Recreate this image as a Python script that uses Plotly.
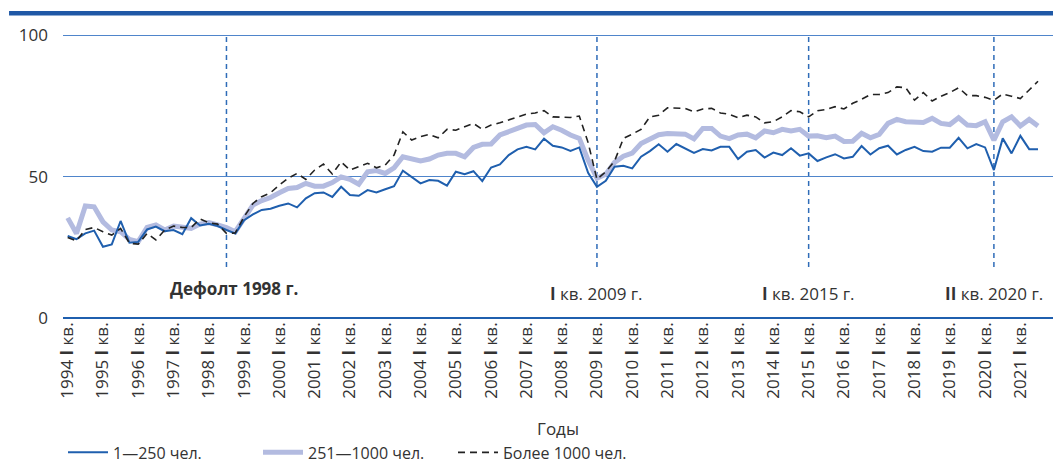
import plotly.graph_objects as go

years = list(range(1994, 2022))
tick_labels = [f"{y} <b>I</b> кв." for y in years]

# quarterly values, 1994 Q1 ... 2021 Q3
small = [29.0, 27.9, 29.9, 30.9, 25.2, 26.0, 34.3, 26.6, 26.9, 31.3, 32.3, 30.7,
         31.1, 29.6, 35.3, 32.7, 33.3, 32.5, 31.1, 29.9, 34.6, 36.6, 38.2, 38.6,
         39.7, 40.5, 39.1, 42.3, 44.1, 44.4, 42.8, 46.4, 43.5, 43.2, 45.2, 44.4,
         45.5, 46.6, 52.1, 49.9, 47.6, 48.8, 48.5, 46.8, 51.7, 50.8, 51.9, 48.4,
         53.2, 54.3, 57.6, 59.6, 60.5, 59.6, 63.4, 60.9, 60.3, 59.1, 60.3, 51.3,
         46.4, 48.5, 53.5, 53.8, 52.9, 57.0, 59.0, 61.4, 58.8, 61.5, 60.0, 58.4,
         59.7, 59.2, 60.5, 60.5, 56.2, 58.8, 59.4, 56.7, 58.5, 57.6, 60.0, 57.4,
         58.2, 55.5, 56.8, 57.9, 56.4, 57.0, 60.8, 57.8, 60.0, 60.9, 57.8, 59.4,
         60.5, 59.0, 58.8, 60.2, 60.2, 63.7, 60.0, 61.5, 60.3, 52.3, 63.5, 58.2,
         64.4, 59.7, 59.7]

medium = [35.4, 29.9, 39.6, 39.3, 34.0, 31.1, 30.5, 27.8, 27.0, 32.0, 32.9, 31.1,
          32.5, 32.0, 31.7, 33.2, 33.7, 32.9, 32.0, 30.5, 35.2, 39.9, 41.5, 42.6,
          44.3, 45.8, 46.1, 47.6, 46.6, 46.6, 47.9, 49.9, 49.0, 47.3, 51.7, 52.1,
          51.1, 53.1, 57.0, 56.2, 55.5, 56.2, 57.6, 58.2, 58.2, 57.0, 60.3, 61.4,
          61.5, 64.7, 65.8, 66.7, 68.2, 68.4, 65.5, 67.6, 66.4, 64.7, 63.5, 55.8,
          49.4, 50.8, 55.0, 57.2, 58.3, 61.7, 63.5, 64.8, 65.2, 65.3, 65.0, 63.3,
          67.0, 67.0, 64.3, 63.4, 64.7, 65.0, 63.7, 66.1, 65.5, 66.7, 66.1, 66.7,
          64.3, 64.4, 63.7, 64.3, 62.4, 62.5, 65.3, 63.7, 64.9, 68.8, 70.2, 69.4,
          69.4, 69.1, 70.6, 68.8, 68.4, 70.8, 68.2, 68.0, 69.4, 62.9, 69.4, 71.1,
          67.9, 70.2, 67.9]

large = [28.5, 27.3, 31.3, 32.0, 30.5, 29.3, 31.7, 26.4, 26.1, 29.9, 27.6, 31.1,
         32.5, 32.0, 32.0, 35.0, 33.7, 33.2, 29.9, 30.1, 35.8, 40.5, 42.9, 44.3,
         47.0, 49.4, 51.1, 49.0, 52.3, 54.4, 50.9, 55.2, 52.3, 53.5, 54.7, 53.1,
         54.1, 57.6, 65.8, 62.9, 64.1, 64.9, 63.7, 66.7, 66.4, 67.6, 68.8, 66.7,
         68.2, 69.0, 70.0, 71.1, 72.1, 72.5, 73.3, 71.1, 71.1, 70.9, 71.4, 62.0,
         49.0, 51.7, 55.5, 63.5, 65.0, 66.7, 71.1, 71.7, 74.3, 74.1, 74.1, 72.9,
         73.9, 74.1, 72.5, 72.0, 70.8, 71.7, 71.1, 69.0, 69.4, 71.1, 73.3, 72.9,
         71.1, 73.3, 73.7, 74.7, 73.9, 75.9, 77.3, 79.0, 79.0, 79.7, 81.7, 81.4,
         77.0, 79.7, 76.7, 78.4, 79.7, 81.4, 78.6, 78.6, 78.0, 77.0, 79.2, 78.4,
         77.6, 80.6, 83.7]

series_names = ["1—250 чел.", "251—1000 чел.", "Более 1000 чел."]

# event markers: (quarter index, label)
events_idx = [18, 60, 84, 105]
events_text = ["<b>Дефолт 1998 г.</b>", "<b>I</b> кв. 2009 г.", "<b>I</b> кв. 2015 г.", "<b>II</b> кв. 2020 г."]

x = list(range(len(small)))
tickvals = [4 * k for k in range(len(years))]

fig = go.Figure()
fig.add_trace(go.Scatter(x=x, y=medium, name=series_names[1], mode="lines",
                         line=dict(color="#b3bbe0", width=5), legendrank=2))
fig.add_trace(go.Scatter(x=x, y=small, name=series_names[0], mode="lines",
                         line=dict(color="#1f5fae", width=2), legendrank=1))
fig.add_trace(go.Scatter(x=x, y=large, name=series_names[2], mode="lines",
                         line=dict(color="#222222", width=1.6, dash="7px,5px"), legendrank=3))

for xi in events_idx:
    fig.add_shape(type="line", xref="x", yref="y", x0=xi, x1=xi, y0=18, y1=100,
                  line=dict(color="#2f6cb8", width=1.5, dash="5px,4px"), layer="below")

ann_y = [10.3, 8.5, 8.5, 8.5]
for xi, t, yy in zip(events_idx, events_text, ann_y):
    fig.add_annotation(x=xi + (0.8 if xi == 18 else 0), y=yy, xref="x", yref="y", text=t,
                       showarrow=False, font=dict(size=17, color="#333333"))

# top decorative bar
fig.add_shape(type="line", xref="paper", yref="paper", x0=-0.0545, x1=1.0,
              y0=1.073, y1=1.073, line=dict(color="#1f58a6", width=4.5))

fig.update_layout(
    width=1053, height=466,
    margin=dict(l=63, r=0, t=34, b=148, autoexpand=False),
    plot_bgcolor="white", paper_bgcolor="white",
    font=dict(family="Open Sans, Noto Sans, sans-serif", size=17, color="#333333"),
    showlegend=True,
    legend=dict(orientation="h", x=0.0, y=-0.4735, xanchor="left", yanchor="middle",
                font=dict(size=16, color="#333333"), entrywidth=140,
                traceorder="normal", itemwidth=40, borderwidth=0),
)
fig.update_xaxes(range=[-0.53, 111.7], tickmode="array", tickvals=tickvals,
                 ticktext=tick_labels, tickangle=-90, showgrid=False, zeroline=False,
                 ticks="", showline=False, tickfont=dict(size=17), automargin=False,
                 title=dict(text="Годы", font=dict(size=17), standoff=25))
fig.update_yaxes(range=[0, 100.4], tickvals=[0, 50, 100], showgrid=True,
                 gridcolor="#4f85cb", gridwidth=1, zeroline=True, zerolinecolor="#1f5fae",
                 zerolinewidth=1.6, ticks="", showline=False, tickfont=dict(size=17),
                 ticklabelstandoff=14, automargin=False)

fig.write_html("out.html", config={"displayModeBar": False},
               post_script="document.body.style.margin='0px';")
